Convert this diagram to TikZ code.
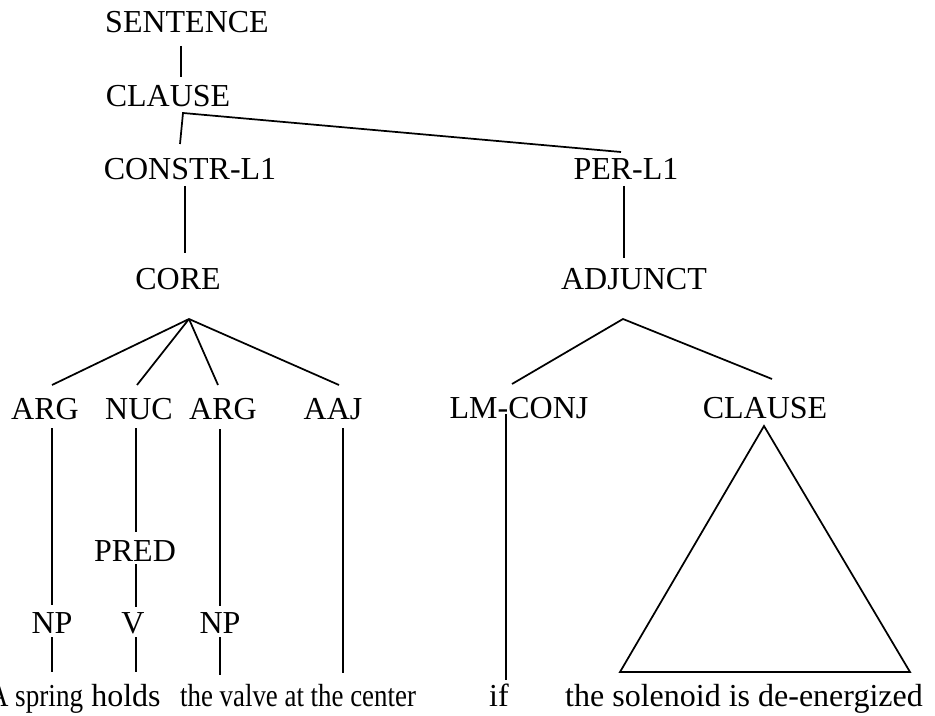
\documentclass[tikz,border=0pt]{standalone}
\usepackage{fontspec}
\setmainfont{Liberation Serif}
\usepackage{graphicx}

\tikzset{
	lbl/.style = {anchor = base, inner sep = 0pt, font = \fontsize{24}{28}\selectfont},
	branch/.style = {line width = 1.3pt}
}

\begin{document}
\begin{tikzpicture} [x = 0.75pt, y = -0.75pt]
		\useasboundingbox (0, 0) rectangle (935, 716);

		% labels of the tree
		\node[lbl] (sentence) at (187, 33) {SENTENCE};
		\node[lbl] (clauseOne) at (168, 107) {CLAUSE};
		\node[lbl] (constrL) at (190, 180) {CONSTR-L1};
		\node[lbl] (perL) at (626, 180) {PER-L1};
		\node[lbl] (core) at (178, 290) {CORE};
		\node[lbl] (adjunct) at (634, 290) {ADJUNCT};

		\node[lbl] (argOne) at (45, 419) {ARG};
		\node[lbl] (nuc) at (139, 419) {NUC};
		\node[lbl] (argTwo) at (223, 419) {ARG};
		\node[lbl] (aaj) at (333, 419) {AAJ};
		\node[lbl] (lmConj) at (519, 418) {LM-CONJ};
		\node[lbl] (clauseTwo) at (765, 418) {CLAUSE};

		\node[lbl] (pred) at (135, 561) {PRED};
		\node[lbl] (npOne) at (52, 633) {NP};
		\node[lbl] (verb) at (133, 633) {V};
		\node[lbl] (npTwo) at (220, 633) {NP};

		% words
		\node[lbl] (wSpring) at (36, 706) {\scalebox{0.85}[1]{A spring}};
		\node[lbl] (wHolds) at (126, 706) {holds};
		\node[lbl] (wValve) at (298, 706) {\scalebox{0.84}[1]{the valve at the center}};
		\node[lbl] (wIf) at (499, 706) {if};
		\node[lbl] (wSolenoid) at (744, 706) {the solenoid is de-energized};

		% attachment points
		\coordinate (sentenceD) at (181, 46);
		\coordinate (clauseOneU) at (181, 77);
		\coordinate (clauseOneD) at (183, 113);
		\coordinate (constrLU) at (180, 144);
		\coordinate (constrLD) at (185, 186);
		\coordinate (coreU) at (185, 253);
		\coordinate (coreD) at (189, 319);
		\coordinate (perLU) at (621, 152);
		\coordinate (perLD) at (624, 186);
		\coordinate (adjunctU) at (624, 258);
		\coordinate (adjunctD) at (623, 319);

		\coordinate (argOneU) at (52, 385);
		\coordinate (argOneD) at (52, 428);
		\coordinate (nucU) at (137, 385);
		\coordinate (nucD) at (136, 428);
		\coordinate (argTwoU) at (218, 385);
		\coordinate (argTwoD) at (220, 429);
		\coordinate (aajU) at (339, 385);
		\coordinate (aajD) at (343, 428);
		\coordinate (lmConjU) at (512, 384);
		\coordinate (lmConjD) at (506, 414);
		\coordinate (clauseTwoU) at (772, 379);

		\coordinate (predU) at (136, 532);
		\coordinate (predD) at (136, 564);
		\coordinate (npOneU) at (52, 605);
		\coordinate (npOneD) at (52, 637);
		\coordinate (verbU) at (136, 607);
		\coordinate (verbD) at (136, 637);
		\coordinate (npTwoU) at (220, 606);
		\coordinate (npTwoD) at (220, 637);

		\coordinate (springU) at (52, 672);
		\coordinate (holdsU) at (136, 672);
		\coordinate (valveU) at (220, 675);
		\coordinate (centerU) at (343, 673);
		\coordinate (ifU) at (506, 680);

		% edges
		\draw[branch] (sentenceD) -- (clauseOneU);
		\draw[branch] (constrLU) -- (clauseOneD) -- (perLU);
		\draw[branch] (constrLD) -- (coreU);
		\draw[branch] (perLD) -- (adjunctU);

		\draw[branch] (argOneU) -- (coreD);
		\draw[branch] (nucU) -- (coreD);
		\draw[branch] (argTwoU) -- (coreD);
		\draw[branch] (aajU) -- (coreD);
		\draw[branch] (lmConjU) -- (adjunctD) -- (clauseTwoU);

		\draw[branch] (argOneD) -- (npOneU);
		\draw[branch] (nucD) -- (predU);
		\draw[branch] (predD) -- (verbU);
		\draw[branch] (argTwoD) -- (npTwoU);
		\draw[branch] (npOneD) -- (springU);
		\draw[branch] (verbD) -- (holdsU);
		\draw[branch] (npTwoD) -- (valveU);
		\draw[branch] (aajD) -- (centerU);
		\draw[branch] (lmConjD) -- (ifU);

		% collapsed clause
		\draw[branch, line join = miter] (764, 426) -- (620, 672) -- (910, 672) -- cycle;

		\end{tikzpicture}
\end{document}
